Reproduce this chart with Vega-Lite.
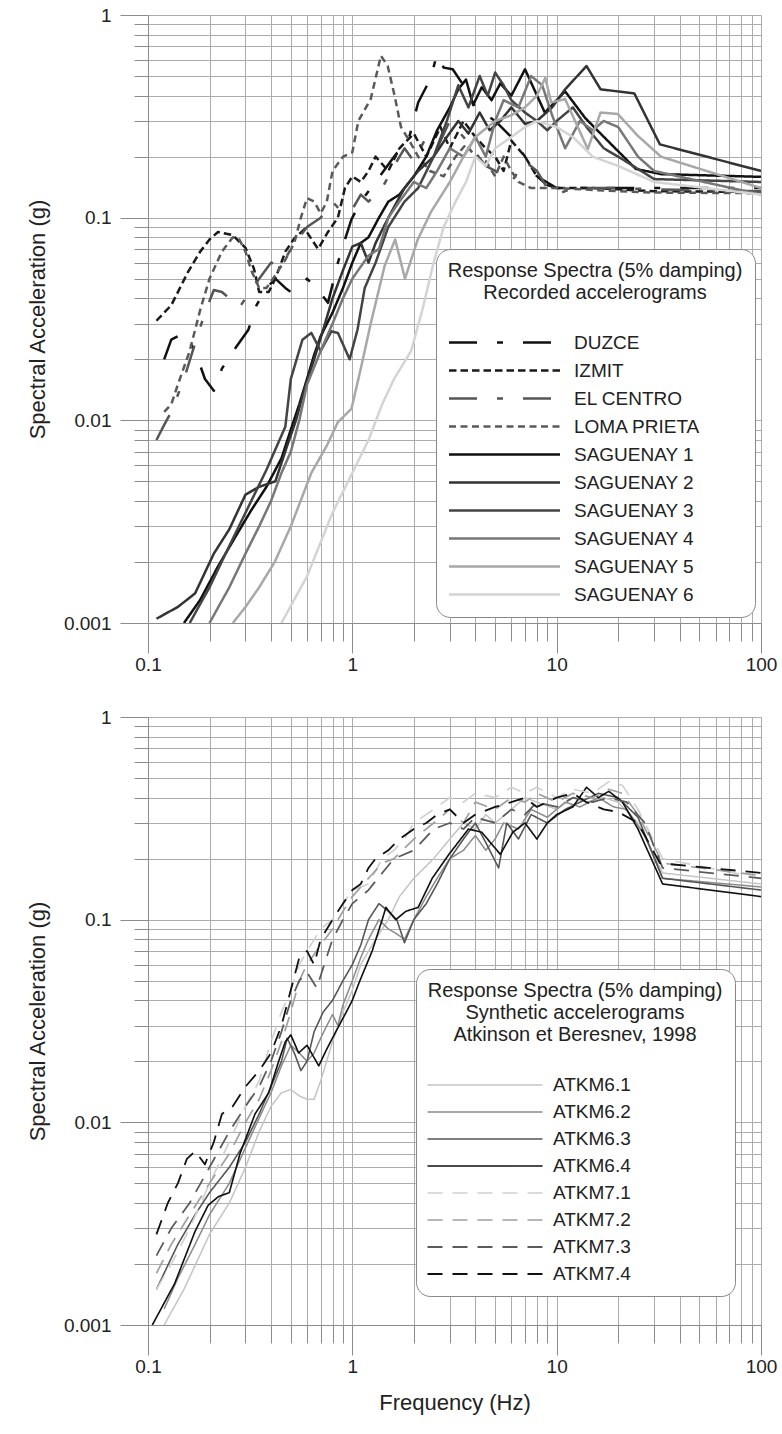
{
  "$schema": "https://vega.github.io/schema/vega-lite/v6.json",
  "padding": {"left": 26, "top": 6, "right": 10, "bottom": 5},
  "bounds": "flush",
  "spacing": 94,
  "config": {
    "font": "Liberation Sans",
    "view": {"stroke": null},
    "axis": {
      "grid": true, "gridColor": "#acacac", "gridWidth": 1,
      "domainColor": "#8c8c8c", "tickColor": "#8c8c8c", "tickWidth": 1,
      "labelFontSize": 19, "labelColor": "#222222", "labelFont": "Liberation Sans",
      "titleFontSize": 22, "titleFontWeight": "normal", "titleColor": "#222222",
      "labelOverlap": false, "labelBound": false, "labelFlush": false
    },
    "legend": {
      "titleFontSize": 20, "titleFontWeight": "normal", "titleColor": "#222222", "titleLimit": 500, "labelLimit": 400,
      "labelFontSize": 19, "labelColor": "#222222", "titleLineHeight": 22
    }
  },
  "datasets": {
    "top": [
      {"s":"DUZCE","f":0.12,"v":0.02},{"s":"DUZCE","f":0.13,"v":0.025},{"s":"DUZCE","f":0.15,"v":0.027},{"s":"DUZCE","f":0.17,"v":0.022},{"s":"DUZCE","f":0.19,"v":0.016},{"s":"DUZCE","f":0.21,"v":0.014},{"s":"DUZCE","f":0.23,"v":0.018},{"s":"DUZCE","f":0.27,"v":0.023},{"s":"DUZCE","f":0.31,"v":0.028},{"s":"DUZCE","f":0.34,"v":0.037},{"s":"DUZCE","f":0.38,"v":0.045},{"s":"DUZCE","f":0.42,"v":0.05},{"s":"DUZCE","f":0.47,"v":0.045},{"s":"DUZCE","f":0.5,"v":0.043},{"s":"DUZCE","f":0.55,"v":0.045},{"s":"DUZCE","f":0.6,"v":0.05},{"s":"DUZCE","f":0.68,"v":0.044},{"s":"DUZCE","f":0.76,"v":0.038},{"s":"DUZCE","f":0.85,"v":0.06},{"s":"DUZCE","f":0.92,"v":0.078},{"s":"DUZCE","f":0.99,"v":0.098},{"s":"DUZCE","f":1.1,"v":0.12},{"s":"DUZCE","f":1.3,"v":0.15},{"s":"DUZCE","f":1.6,"v":0.2},{"s":"DUZCE","f":1.9,"v":0.25},{"s":"DUZCE","f":2.1,"v":0.37},{"s":"DUZCE","f":2.4,"v":0.48},{"s":"DUZCE","f":2.6,"v":0.64},{"s":"DUZCE","f":2.8,"v":0.55},{"s":"DUZCE","f":3.1,"v":0.54},{"s":"DUZCE","f":3.5,"v":0.45},{"s":"DUZCE","f":4,"v":0.35},{"s":"DUZCE","f":5,"v":0.3},{"s":"DUZCE","f":6,"v":0.25},{"s":"DUZCE","f":7,"v":0.2},{"s":"DUZCE","f":8,"v":0.16},{"s":"DUZCE","f":10,"v":0.14},{"s":"DUZCE","f":15,"v":0.14},{"s":"DUZCE","f":20,"v":0.14},{"s":"DUZCE","f":30,"v":0.14},{"s":"DUZCE","f":100,"v":0.14},
      {"s":"IZMIT","f":0.11,"v":0.031},{"s":"IZMIT","f":0.13,"v":0.037},{"s":"IZMIT","f":0.157,"v":0.054},{"s":"IZMIT","f":0.18,"v":0.068},{"s":"IZMIT","f":0.2,"v":0.078},{"s":"IZMIT","f":0.22,"v":0.085},{"s":"IZMIT","f":0.26,"v":0.082},{"s":"IZMIT","f":0.3,"v":0.071},{"s":"IZMIT","f":0.33,"v":0.056},{"s":"IZMIT","f":0.35,"v":0.043},{"s":"IZMIT","f":0.39,"v":0.043},{"s":"IZMIT","f":0.42,"v":0.05},{"s":"IZMIT","f":0.47,"v":0.068},{"s":"IZMIT","f":0.52,"v":0.079},{"s":"IZMIT","f":0.585,"v":0.088},{"s":"IZMIT","f":0.68,"v":0.07},{"s":"IZMIT","f":0.76,"v":0.085},{"s":"IZMIT","f":0.85,"v":0.1},{"s":"IZMIT","f":0.92,"v":0.14},{"s":"IZMIT","f":1.0,"v":0.16},{"s":"IZMIT","f":1.1,"v":0.15},{"s":"IZMIT","f":1.2,"v":0.17},{"s":"IZMIT","f":1.3,"v":0.2},{"s":"IZMIT","f":1.5,"v":0.17},{"s":"IZMIT","f":1.7,"v":0.22},{"s":"IZMIT","f":2.0,"v":0.26},{"s":"IZMIT","f":2.3,"v":0.2},{"s":"IZMIT","f":2.7,"v":0.28},{"s":"IZMIT","f":3.0,"v":0.22},{"s":"IZMIT","f":3.5,"v":0.3},{"s":"IZMIT","f":4.0,"v":0.25},{"s":"IZMIT","f":4.5,"v":0.22},{"s":"IZMIT","f":5.0,"v":0.2},{"s":"IZMIT","f":5.5,"v":0.17},{"s":"IZMIT","f":6.0,"v":0.24},{"s":"IZMIT","f":7.0,"v":0.2},{"s":"IZMIT","f":8.0,"v":0.16},{"s":"IZMIT","f":9.0,"v":0.145},{"s":"IZMIT","f":10,"v":0.14},{"s":"IZMIT","f":15,"v":0.14},{"s":"IZMIT","f":20,"v":0.138},{"s":"IZMIT","f":30,"v":0.135},{"s":"IZMIT","f":100,"v":0.134},
      {"s":"EL CENTRO","f":0.11,"v":0.008},{"s":"EL CENTRO","f":0.12,"v":0.0095},{"s":"EL CENTRO","f":0.13,"v":0.011},{"s":"EL CENTRO","f":0.15,"v":0.016},{"s":"EL CENTRO","f":0.17,"v":0.024},{"s":"EL CENTRO","f":0.19,"v":0.034},{"s":"EL CENTRO","f":0.21,"v":0.044},{"s":"EL CENTRO","f":0.23,"v":0.043},{"s":"EL CENTRO","f":0.25,"v":0.04},{"s":"EL CENTRO","f":0.28,"v":0.036},{"s":"EL CENTRO","f":0.31,"v":0.042},{"s":"EL CENTRO","f":0.35,"v":0.05},{"s":"EL CENTRO","f":0.4,"v":0.06},{"s":"EL CENTRO","f":0.45,"v":0.058},{"s":"EL CENTRO","f":0.5,"v":0.07},{"s":"EL CENTRO","f":0.55,"v":0.08},{"s":"EL CENTRO","f":0.6,"v":0.09},{"s":"EL CENTRO","f":0.7,"v":0.1},{"s":"EL CENTRO","f":0.8,"v":0.12},{"s":"EL CENTRO","f":0.9,"v":0.105},{"s":"EL CENTRO","f":1.0,"v":0.11},{"s":"EL CENTRO","f":1.1,"v":0.13},{"s":"EL CENTRO","f":1.2,"v":0.12},{"s":"EL CENTRO","f":1.4,"v":0.14},{"s":"EL CENTRO","f":1.6,"v":0.18},{"s":"EL CENTRO","f":1.8,"v":0.22},{"s":"EL CENTRO","f":2.0,"v":0.19},{"s":"EL CENTRO","f":2.3,"v":0.25},{"s":"EL CENTRO","f":2.6,"v":0.22},{"s":"EL CENTRO","f":3.0,"v":0.3},{"s":"EL CENTRO","f":3.5,"v":0.25},{"s":"EL CENTRO","f":4.0,"v":0.21},{"s":"EL CENTRO","f":4.5,"v":0.18},{"s":"EL CENTRO","f":5.0,"v":0.17},{"s":"EL CENTRO","f":6.0,"v":0.15},{"s":"EL CENTRO","f":7.0,"v":0.19},{"s":"EL CENTRO","f":8.0,"v":0.17},{"s":"EL CENTRO","f":9.0,"v":0.14},{"s":"EL CENTRO","f":10,"v":0.13},{"s":"EL CENTRO","f":12,"v":0.14},{"s":"EL CENTRO","f":20,"v":0.14},{"s":"EL CENTRO","f":30,"v":0.138},{"s":"EL CENTRO","f":100,"v":0.135},
      {"s":"LOMA PRIETA","f":0.12,"v":0.011},{"s":"LOMA PRIETA","f":0.13,"v":0.012},{"s":"LOMA PRIETA","f":0.14,"v":0.015},{"s":"LOMA PRIETA","f":0.16,"v":0.022},{"s":"LOMA PRIETA","f":0.18,"v":0.035},{"s":"LOMA PRIETA","f":0.2,"v":0.05},{"s":"LOMA PRIETA","f":0.23,"v":0.068},{"s":"LOMA PRIETA","f":0.26,"v":0.08},{"s":"LOMA PRIETA","f":0.28,"v":0.078},{"s":"LOMA PRIETA","f":0.3,"v":0.068},{"s":"LOMA PRIETA","f":0.32,"v":0.055},{"s":"LOMA PRIETA","f":0.35,"v":0.045},{"s":"LOMA PRIETA","f":0.38,"v":0.045},{"s":"LOMA PRIETA","f":0.42,"v":0.052},{"s":"LOMA PRIETA","f":0.47,"v":0.062},{"s":"LOMA PRIETA","f":0.52,"v":0.075},{"s":"LOMA PRIETA","f":0.56,"v":0.1},{"s":"LOMA PRIETA","f":0.6,"v":0.125},{"s":"LOMA PRIETA","f":0.65,"v":0.12},{"s":"LOMA PRIETA","f":0.7,"v":0.105},{"s":"LOMA PRIETA","f":0.75,"v":0.12},{"s":"LOMA PRIETA","f":0.8,"v":0.17},{"s":"LOMA PRIETA","f":0.9,"v":0.2},{"s":"LOMA PRIETA","f":1.0,"v":0.21},{"s":"LOMA PRIETA","f":1.07,"v":0.3},{"s":"LOMA PRIETA","f":1.23,"v":0.385},{"s":"LOMA PRIETA","f":1.38,"v":0.63},{"s":"LOMA PRIETA","f":1.49,"v":0.56},{"s":"LOMA PRIETA","f":1.61,"v":0.4},{"s":"LOMA PRIETA","f":1.73,"v":0.28},{"s":"LOMA PRIETA","f":1.9,"v":0.24},{"s":"LOMA PRIETA","f":2.1,"v":0.2},{"s":"LOMA PRIETA","f":2.4,"v":0.17},{"s":"LOMA PRIETA","f":2.8,"v":0.16},{"s":"LOMA PRIETA","f":3.2,"v":0.2},{"s":"LOMA PRIETA","f":3.6,"v":0.23},{"s":"LOMA PRIETA","f":4,"v":0.2},{"s":"LOMA PRIETA","f":4.5,"v":0.19},{"s":"LOMA PRIETA","f":5,"v":0.16},{"s":"LOMA PRIETA","f":5.5,"v":0.2},{"s":"LOMA PRIETA","f":6,"v":0.17},{"s":"LOMA PRIETA","f":6.5,"v":0.15},{"s":"LOMA PRIETA","f":7.5,"v":0.14},{"s":"LOMA PRIETA","f":10,"v":0.14},{"s":"LOMA PRIETA","f":20,"v":0.135},{"s":"LOMA PRIETA","f":30,"v":0.133},{"s":"LOMA PRIETA","f":100,"v":0.132},
      {"s":"SAGUENAY 1","f":0.15,"v":0.001},{"s":"SAGUENAY 1","f":0.18,"v":0.0013},{"s":"SAGUENAY 1","f":0.22,"v":0.0019},{"s":"SAGUENAY 1","f":0.27,"v":0.0027},{"s":"SAGUENAY 1","f":0.32,"v":0.0036},{"s":"SAGUENAY 1","f":0.38,"v":0.0047},{"s":"SAGUENAY 1","f":0.45,"v":0.0065},{"s":"SAGUENAY 1","f":0.5,"v":0.009},{"s":"SAGUENAY 1","f":0.55,"v":0.012},{"s":"SAGUENAY 1","f":0.6,"v":0.016},{"s":"SAGUENAY 1","f":0.65,"v":0.021},{"s":"SAGUENAY 1","f":0.7,"v":0.026},{"s":"SAGUENAY 1","f":0.8,"v":0.034},{"s":"SAGUENAY 1","f":0.9,"v":0.045},{"s":"SAGUENAY 1","f":1.0,"v":0.06},{"s":"SAGUENAY 1","f":1.1,"v":0.075},{"s":"SAGUENAY 1","f":1.2,"v":0.08},{"s":"SAGUENAY 1","f":1.35,"v":0.1},{"s":"SAGUENAY 1","f":1.5,"v":0.12},{"s":"SAGUENAY 1","f":1.7,"v":0.13},{"s":"SAGUENAY 1","f":2.0,"v":0.16},{"s":"SAGUENAY 1","f":2.3,"v":0.2},{"s":"SAGUENAY 1","f":2.6,"v":0.27},{"s":"SAGUENAY 1","f":3.0,"v":0.35},{"s":"SAGUENAY 1","f":3.3,"v":0.43},{"s":"SAGUENAY 1","f":3.6,"v":0.48},{"s":"SAGUENAY 1","f":3.9,"v":0.36},{"s":"SAGUENAY 1","f":4.3,"v":0.44},{"s":"SAGUENAY 1","f":4.8,"v":0.38},{"s":"SAGUENAY 1","f":5.3,"v":0.46},{"s":"SAGUENAY 1","f":6.0,"v":0.4},{"s":"SAGUENAY 1","f":7.0,"v":0.54},{"s":"SAGUENAY 1","f":8.75,"v":0.33},{"s":"SAGUENAY 1","f":11,"v":0.42},{"s":"SAGUENAY 1","f":13.8,"v":0.31},{"s":"SAGUENAY 1","f":18.5,"v":0.23},{"s":"SAGUENAY 1","f":24.4,"v":0.174},{"s":"SAGUENAY 1","f":32.4,"v":0.164},{"s":"SAGUENAY 1","f":100,"v":0.159},
      {"s":"SAGUENAY 2","f":0.11,"v":0.00105},{"s":"SAGUENAY 2","f":0.14,"v":0.0012},{"s":"SAGUENAY 2","f":0.17,"v":0.0014},{"s":"SAGUENAY 2","f":0.21,"v":0.0022},{"s":"SAGUENAY 2","f":0.25,"v":0.0029},{"s":"SAGUENAY 2","f":0.3,"v":0.0043},{"s":"SAGUENAY 2","f":0.35,"v":0.0047},{"s":"SAGUENAY 2","f":0.42,"v":0.005},{"s":"SAGUENAY 2","f":0.48,"v":0.0075},{"s":"SAGUENAY 2","f":0.53,"v":0.01},{"s":"SAGUENAY 2","f":0.58,"v":0.014},{"s":"SAGUENAY 2","f":0.65,"v":0.02},{"s":"SAGUENAY 2","f":0.72,"v":0.028},{"s":"SAGUENAY 2","f":0.8,"v":0.04},{"s":"SAGUENAY 2","f":0.9,"v":0.055},{"s":"SAGUENAY 2","f":1.0,"v":0.072},{"s":"SAGUENAY 2","f":1.1,"v":0.075},{"s":"SAGUENAY 2","f":1.2,"v":0.06},{"s":"SAGUENAY 2","f":1.3,"v":0.075},{"s":"SAGUENAY 2","f":1.5,"v":0.1},{"s":"SAGUENAY 2","f":1.8,"v":0.14},{"s":"SAGUENAY 2","f":2.1,"v":0.17},{"s":"SAGUENAY 2","f":2.5,"v":0.2},{"s":"SAGUENAY 2","f":2.9,"v":0.25},{"s":"SAGUENAY 2","f":3.3,"v":0.3},{"s":"SAGUENAY 2","f":3.7,"v":0.26},{"s":"SAGUENAY 2","f":4.2,"v":0.33},{"s":"SAGUENAY 2","f":4.7,"v":0.27},{"s":"SAGUENAY 2","f":5.3,"v":0.3},{"s":"SAGUENAY 2","f":6,"v":0.35},{"s":"SAGUENAY 2","f":7,"v":0.29},{"s":"SAGUENAY 2","f":8,"v":0.3},{"s":"SAGUENAY 2","f":9.5,"v":0.35},{"s":"SAGUENAY 2","f":11,"v":0.43},{"s":"SAGUENAY 2","f":14,"v":0.56},{"s":"SAGUENAY 2","f":16.4,"v":0.43},{"s":"SAGUENAY 2","f":24,"v":0.41},{"s":"SAGUENAY 2","f":32,"v":0.23},{"s":"SAGUENAY 2","f":100,"v":0.17},
      {"s":"SAGUENAY 3","f":0.16,"v":0.001},{"s":"SAGUENAY 3","f":0.2,"v":0.0015},{"s":"SAGUENAY 3","f":0.25,"v":0.0024},{"s":"SAGUENAY 3","f":0.3,"v":0.0035},{"s":"SAGUENAY 3","f":0.38,"v":0.0057},{"s":"SAGUENAY 3","f":0.47,"v":0.0093},{"s":"SAGUENAY 3","f":0.5,"v":0.016},{"s":"SAGUENAY 3","f":0.57,"v":0.025},{"s":"SAGUENAY 3","f":0.63,"v":0.027},{"s":"SAGUENAY 3","f":0.7,"v":0.022},{"s":"SAGUENAY 3","f":0.79,"v":0.0275},{"s":"SAGUENAY 3","f":0.85,"v":0.027},{"s":"SAGUENAY 3","f":0.97,"v":0.02},{"s":"SAGUENAY 3","f":1.06,"v":0.028},{"s":"SAGUENAY 3","f":1.15,"v":0.045},{"s":"SAGUENAY 3","f":1.3,"v":0.06},{"s":"SAGUENAY 3","f":1.5,"v":0.09},{"s":"SAGUENAY 3","f":1.8,"v":0.12},{"s":"SAGUENAY 3","f":2.1,"v":0.14},{"s":"SAGUENAY 3","f":2.5,"v":0.2},{"s":"SAGUENAY 3","f":2.9,"v":0.3},{"s":"SAGUENAY 3","f":3.3,"v":0.45},{"s":"SAGUENAY 3","f":3.7,"v":0.35},{"s":"SAGUENAY 3","f":4.2,"v":0.5},{"s":"SAGUENAY 3","f":4.6,"v":0.4},{"s":"SAGUENAY 3","f":5.0,"v":0.52},{"s":"SAGUENAY 3","f":5.5,"v":0.45},{"s":"SAGUENAY 3","f":6.0,"v":0.38},{"s":"SAGUENAY 3","f":7,"v":0.33},{"s":"SAGUENAY 3","f":8,"v":0.3},{"s":"SAGUENAY 3","f":9,"v":0.27},{"s":"SAGUENAY 3","f":10,"v":0.3},{"s":"SAGUENAY 3","f":12,"v":0.35},{"s":"SAGUENAY 3","f":14,"v":0.28},{"s":"SAGUENAY 3","f":17,"v":0.22},{"s":"SAGUENAY 3","f":20,"v":0.2},{"s":"SAGUENAY 3","f":30,"v":0.155},{"s":"SAGUENAY 3","f":100,"v":0.15},
      {"s":"SAGUENAY 4","f":0.2,"v":0.001},{"s":"SAGUENAY 4","f":0.25,"v":0.0015},{"s":"SAGUENAY 4","f":0.3,"v":0.0022},{"s":"SAGUENAY 4","f":0.35,"v":0.003},{"s":"SAGUENAY 4","f":0.4,"v":0.004},{"s":"SAGUENAY 4","f":0.45,"v":0.0055},{"s":"SAGUENAY 4","f":0.5,"v":0.007},{"s":"SAGUENAY 4","f":0.55,"v":0.01},{"s":"SAGUENAY 4","f":0.6,"v":0.015},{"s":"SAGUENAY 4","f":0.7,"v":0.022},{"s":"SAGUENAY 4","f":0.8,"v":0.03},{"s":"SAGUENAY 4","f":0.9,"v":0.04},{"s":"SAGUENAY 4","f":1.0,"v":0.05},{"s":"SAGUENAY 4","f":1.2,"v":0.065},{"s":"SAGUENAY 4","f":1.35,"v":0.07},{"s":"SAGUENAY 4","f":1.5,"v":0.1},{"s":"SAGUENAY 4","f":1.7,"v":0.12},{"s":"SAGUENAY 4","f":2,"v":0.15},{"s":"SAGUENAY 4","f":2.3,"v":0.14},{"s":"SAGUENAY 4","f":2.6,"v":0.17},{"s":"SAGUENAY 4","f":3,"v":0.22},{"s":"SAGUENAY 4","f":3.5,"v":0.2},{"s":"SAGUENAY 4","f":4,"v":0.25},{"s":"SAGUENAY 4","f":4.5,"v":0.2},{"s":"SAGUENAY 4","f":5,"v":0.3},{"s":"SAGUENAY 4","f":5.5,"v":0.38},{"s":"SAGUENAY 4","f":6.5,"v":0.35},{"s":"SAGUENAY 4","f":7.5,"v":0.5},{"s":"SAGUENAY 4","f":8.5,"v":0.45},{"s":"SAGUENAY 4","f":9.5,"v":0.32},{"s":"SAGUENAY 4","f":11,"v":0.22},{"s":"SAGUENAY 4","f":13,"v":0.3},{"s":"SAGUENAY 4","f":15,"v":0.27},{"s":"SAGUENAY 4","f":17,"v":0.3},{"s":"SAGUENAY 4","f":20,"v":0.28},{"s":"SAGUENAY 4","f":25,"v":0.2},{"s":"SAGUENAY 4","f":30,"v":0.17},{"s":"SAGUENAY 4","f":100,"v":0.13},
      {"s":"SAGUENAY 5","f":0.26,"v":0.001},{"s":"SAGUENAY 5","f":0.3,"v":0.0012},{"s":"SAGUENAY 5","f":0.35,"v":0.0015},{"s":"SAGUENAY 5","f":0.417,"v":0.002},{"s":"SAGUENAY 5","f":0.5,"v":0.003},{"s":"SAGUENAY 5","f":0.63,"v":0.0055},{"s":"SAGUENAY 5","f":0.75,"v":0.0075},{"s":"SAGUENAY 5","f":0.85,"v":0.0098},{"s":"SAGUENAY 5","f":0.99,"v":0.0114},{"s":"SAGUENAY 5","f":1.1,"v":0.018},{"s":"SAGUENAY 5","f":1.23,"v":0.03},{"s":"SAGUENAY 5","f":1.44,"v":0.058},{"s":"SAGUENAY 5","f":1.62,"v":0.078},{"s":"SAGUENAY 5","f":1.81,"v":0.05},{"s":"SAGUENAY 5","f":2.09,"v":0.078},{"s":"SAGUENAY 5","f":2.43,"v":0.107},{"s":"SAGUENAY 5","f":3,"v":0.15},{"s":"SAGUENAY 5","f":3.5,"v":0.2},{"s":"SAGUENAY 5","f":4,"v":0.25},{"s":"SAGUENAY 5","f":5,"v":0.3},{"s":"SAGUENAY 5","f":6,"v":0.32},{"s":"SAGUENAY 5","f":7,"v":0.35},{"s":"SAGUENAY 5","f":8,"v":0.4},{"s":"SAGUENAY 5","f":8.8,"v":0.49},{"s":"SAGUENAY 5","f":9.4,"v":0.37},{"s":"SAGUENAY 5","f":11,"v":0.385},{"s":"SAGUENAY 5","f":14.2,"v":0.218},{"s":"SAGUENAY 5","f":16.4,"v":0.33},{"s":"SAGUENAY 5","f":19.9,"v":0.325},{"s":"SAGUENAY 5","f":25,"v":0.253},{"s":"SAGUENAY 5","f":32.4,"v":0.2},{"s":"SAGUENAY 5","f":100,"v":0.14},
      {"s":"SAGUENAY 6","f":0.45,"v":0.001},{"s":"SAGUENAY 6","f":0.6,"v":0.0017},{"s":"SAGUENAY 6","f":0.8,"v":0.0035},{"s":"SAGUENAY 6","f":1.0,"v":0.0055},{"s":"SAGUENAY 6","f":1.2,"v":0.008},{"s":"SAGUENAY 6","f":1.4,"v":0.012},{"s":"SAGUENAY 6","f":1.6,"v":0.016},{"s":"SAGUENAY 6","f":1.94,"v":0.022},{"s":"SAGUENAY 6","f":2.2,"v":0.035},{"s":"SAGUENAY 6","f":2.5,"v":0.06},{"s":"SAGUENAY 6","f":2.8,"v":0.09},{"s":"SAGUENAY 6","f":3.2,"v":0.12},{"s":"SAGUENAY 6","f":3.6,"v":0.15},{"s":"SAGUENAY 6","f":4,"v":0.2},{"s":"SAGUENAY 6","f":4.5,"v":0.18},{"s":"SAGUENAY 6","f":5,"v":0.22},{"s":"SAGUENAY 6","f":6,"v":0.25},{"s":"SAGUENAY 6","f":7,"v":0.28},{"s":"SAGUENAY 6","f":8,"v":0.3},{"s":"SAGUENAY 6","f":10,"v":0.28},{"s":"SAGUENAY 6","f":12,"v":0.25},{"s":"SAGUENAY 6","f":15,"v":0.2},{"s":"SAGUENAY 6","f":20,"v":0.18},{"s":"SAGUENAY 6","f":30,"v":0.15},{"s":"SAGUENAY 6","f":100,"v":0.13}
    ],
    "bottom": [
      {"m":"ATKM6.1","f":0.12,"v":0.001},{"m":"ATKM6.1","f":0.15,"v":0.0015},{"m":"ATKM6.1","f":0.2,"v":0.0028},{"m":"ATKM6.1","f":0.25,"v":0.004},{"m":"ATKM6.1","f":0.3,"v":0.006},{"m":"ATKM6.1","f":0.35,"v":0.009},{"m":"ATKM6.1","f":0.4,"v":0.012},{"m":"ATKM6.1","f":0.45,"v":0.014},{"m":"ATKM6.1","f":0.5,"v":0.0145},{"m":"ATKM6.1","f":0.55,"v":0.0135},{"m":"ATKM6.1","f":0.6,"v":0.013},{"m":"ATKM6.1","f":0.65,"v":0.013},{"m":"ATKM6.1","f":0.7,"v":0.016},{"m":"ATKM6.1","f":0.8,"v":0.025},{"m":"ATKM6.1","f":0.9,"v":0.035},{"m":"ATKM6.1","f":1.0,"v":0.045},{"m":"ATKM6.1","f":1.1,"v":0.06},{"m":"ATKM6.1","f":1.2,"v":0.07},{"m":"ATKM6.1","f":1.3,"v":0.08},{"m":"ATKM6.1","f":1.5,"v":0.1},{"m":"ATKM6.1","f":1.7,"v":0.13},{"m":"ATKM6.1","f":2,"v":0.16},{"m":"ATKM6.1","f":2.5,"v":0.2},{"m":"ATKM6.1","f":3,"v":0.25},{"m":"ATKM6.1","f":3.5,"v":0.3},{"m":"ATKM6.1","f":4,"v":0.28},{"m":"ATKM6.1","f":4.5,"v":0.33},{"m":"ATKM6.1","f":5,"v":0.3},{"m":"ATKM6.1","f":6,"v":0.35},{"m":"ATKM6.1","f":7,"v":0.4},{"m":"ATKM6.1","f":8,"v":0.38},{"m":"ATKM6.1","f":10,"v":0.35},{"m":"ATKM6.1","f":12,"v":0.4},{"m":"ATKM6.1","f":14,"v":0.38},{"m":"ATKM6.1","f":17,"v":0.4},{"m":"ATKM6.1","f":20,"v":0.38},{"m":"ATKM6.1","f":25,"v":0.3},{"m":"ATKM6.1","f":33,"v":0.17},{"m":"ATKM6.1","f":100,"v":0.15},
      {"m":"ATKM6.2","f":0.12,"v":0.0012},{"m":"ATKM6.2","f":0.14,"v":0.0017},{"m":"ATKM6.2","f":0.17,"v":0.0025},{"m":"ATKM6.2","f":0.2,"v":0.0035},{"m":"ATKM6.2","f":0.25,"v":0.005},{"m":"ATKM6.2","f":0.3,"v":0.0075},{"m":"ATKM6.2","f":0.35,"v":0.0105},{"m":"ATKM6.2","f":0.4,"v":0.014},{"m":"ATKM6.2","f":0.45,"v":0.019},{"m":"ATKM6.2","f":0.5,"v":0.024},{"m":"ATKM6.2","f":0.55,"v":0.022},{"m":"ATKM6.2","f":0.6,"v":0.02},{"m":"ATKM6.2","f":0.65,"v":0.022},{"m":"ATKM6.2","f":0.7,"v":0.026},{"m":"ATKM6.2","f":0.75,"v":0.03},{"m":"ATKM6.2","f":0.8,"v":0.034},{"m":"ATKM6.2","f":0.85,"v":0.03},{"m":"ATKM6.2","f":0.9,"v":0.038},{"m":"ATKM6.2","f":1.0,"v":0.05},{"m":"ATKM6.2","f":1.1,"v":0.065},{"m":"ATKM6.2","f":1.2,"v":0.08},{"m":"ATKM6.2","f":1.35,"v":0.1},{"m":"ATKM6.2","f":1.5,"v":0.09},{"m":"ATKM6.2","f":1.65,"v":0.085},{"m":"ATKM6.2","f":1.8,"v":0.08},{"m":"ATKM6.2","f":2.0,"v":0.1},{"m":"ATKM6.2","f":2.3,"v":0.13},{"m":"ATKM6.2","f":2.6,"v":0.16},{"m":"ATKM6.2","f":3.0,"v":0.2},{"m":"ATKM6.2","f":3.5,"v":0.22},{"m":"ATKM6.2","f":4.0,"v":0.26},{"m":"ATKM6.2","f":4.5,"v":0.22},{"m":"ATKM6.2","f":5.0,"v":0.25},{"m":"ATKM6.2","f":5.5,"v":0.3},{"m":"ATKM6.2","f":6.5,"v":0.28},{"m":"ATKM6.2","f":7.5,"v":0.35},{"m":"ATKM6.2","f":9,"v":0.32},{"m":"ATKM6.2","f":11,"v":0.38},{"m":"ATKM6.2","f":13,"v":0.36},{"m":"ATKM6.2","f":16,"v":0.4},{"m":"ATKM6.2","f":19,"v":0.36},{"m":"ATKM6.2","f":22,"v":0.35},{"m":"ATKM6.2","f":27,"v":0.26},{"m":"ATKM6.2","f":33,"v":0.16},{"m":"ATKM6.2","f":100,"v":0.145},
      {"m":"ATKM6.3","f":0.11,"v":0.0015},{"m":"ATKM6.3","f":0.14,"v":0.0025},{"m":"ATKM6.3","f":0.17,"v":0.0035},{"m":"ATKM6.3","f":0.2,"v":0.0045},{"m":"ATKM6.3","f":0.25,"v":0.006},{"m":"ATKM6.3","f":0.3,"v":0.008},{"m":"ATKM6.3","f":0.35,"v":0.011},{"m":"ATKM6.3","f":0.4,"v":0.015},{"m":"ATKM6.3","f":0.45,"v":0.02},{"m":"ATKM6.3","f":0.48,"v":0.026},{"m":"ATKM6.3","f":0.52,"v":0.022},{"m":"ATKM6.3","f":0.56,"v":0.018},{"m":"ATKM6.3","f":0.6,"v":0.02},{"m":"ATKM6.3","f":0.65,"v":0.028},{"m":"ATKM6.3","f":0.72,"v":0.035},{"m":"ATKM6.3","f":0.8,"v":0.04},{"m":"ATKM6.3","f":0.9,"v":0.05},{"m":"ATKM6.3","f":1.0,"v":0.06},{"m":"ATKM6.3","f":1.1,"v":0.075},{"m":"ATKM6.3","f":1.2,"v":0.1},{"m":"ATKM6.3","f":1.35,"v":0.12},{"m":"ATKM6.3","f":1.5,"v":0.11},{"m":"ATKM6.3","f":1.65,"v":0.1},{"m":"ATKM6.3","f":1.8,"v":0.077},{"m":"ATKM6.3","f":2.0,"v":0.1},{"m":"ATKM6.3","f":2.3,"v":0.12},{"m":"ATKM6.3","f":2.6,"v":0.15},{"m":"ATKM6.3","f":3,"v":0.2},{"m":"ATKM6.3","f":3.5,"v":0.25},{"m":"ATKM6.3","f":4,"v":0.3},{"m":"ATKM6.3","f":4.5,"v":0.24},{"m":"ATKM6.3","f":5.2,"v":0.18},{"m":"ATKM6.3","f":5.7,"v":0.3},{"m":"ATKM6.3","f":6.5,"v":0.25},{"m":"ATKM6.3","f":7.5,"v":0.33},{"m":"ATKM6.3","f":9,"v":0.3},{"m":"ATKM6.3","f":11,"v":0.35},{"m":"ATKM6.3","f":13,"v":0.38},{"m":"ATKM6.3","f":16,"v":0.42},{"m":"ATKM6.3","f":20,"v":0.4},{"m":"ATKM6.3","f":25,"v":0.32},{"m":"ATKM6.3","f":33,"v":0.16},{"m":"ATKM6.3","f":100,"v":0.14},
      {"m":"ATKM6.4","f":0.105,"v":0.001},{"m":"ATKM6.4","f":0.135,"v":0.0016},{"m":"ATKM6.4","f":0.17,"v":0.0029},{"m":"ATKM6.4","f":0.197,"v":0.0039},{"m":"ATKM6.4","f":0.221,"v":0.0043},{"m":"ATKM6.4","f":0.25,"v":0.0045},{"m":"ATKM6.4","f":0.282,"v":0.007},{"m":"ATKM6.4","f":0.334,"v":0.011},{"m":"ATKM6.4","f":0.39,"v":0.014},{"m":"ATKM6.4","f":0.436,"v":0.02},{"m":"ATKM6.4","f":0.47,"v":0.025},{"m":"ATKM6.4","f":0.5,"v":0.027},{"m":"ATKM6.4","f":0.546,"v":0.022},{"m":"ATKM6.4","f":0.6,"v":0.024},{"m":"ATKM6.4","f":0.685,"v":0.019},{"m":"ATKM6.4","f":0.75,"v":0.023},{"m":"ATKM6.4","f":0.83,"v":0.028},{"m":"ATKM6.4","f":0.92,"v":0.034},{"m":"ATKM6.4","f":1.0,"v":0.04},{"m":"ATKM6.4","f":1.08,"v":0.049},{"m":"ATKM6.4","f":1.25,"v":0.07},{"m":"ATKM6.4","f":1.4,"v":0.1},{"m":"ATKM6.4","f":1.46,"v":0.115},{"m":"ATKM6.4","f":1.63,"v":0.1},{"m":"ATKM6.4","f":1.83,"v":0.11},{"m":"ATKM6.4","f":2.1,"v":0.115},{"m":"ATKM6.4","f":2.46,"v":0.16},{"m":"ATKM6.4","f":2.97,"v":0.21},{"m":"ATKM6.4","f":3.7,"v":0.28},{"m":"ATKM6.4","f":4.3,"v":0.27},{"m":"ATKM6.4","f":5.3,"v":0.21},{"m":"ATKM6.4","f":6.1,"v":0.27},{"m":"ATKM6.4","f":7,"v":0.3},{"m":"ATKM6.4","f":8,"v":0.25},{"m":"ATKM6.4","f":9,"v":0.3},{"m":"ATKM6.4","f":10,"v":0.33},{"m":"ATKM6.4","f":12,"v":0.36},{"m":"ATKM6.4","f":14,"v":0.45},{"m":"ATKM6.4","f":16,"v":0.4},{"m":"ATKM6.4","f":18,"v":0.43},{"m":"ATKM6.4","f":21,"v":0.38},{"m":"ATKM6.4","f":25,"v":0.28},{"m":"ATKM6.4","f":33,"v":0.15},{"m":"ATKM6.4","f":100,"v":0.13},
      {"m":"ATKM7.1","f":0.11,"v":0.0015},{"m":"ATKM7.1","f":0.13,"v":0.002},{"m":"ATKM7.1","f":0.16,"v":0.003},{"m":"ATKM7.1","f":0.2,"v":0.005},{"m":"ATKM7.1","f":0.25,"v":0.008},{"m":"ATKM7.1","f":0.3,"v":0.012},{"m":"ATKM7.1","f":0.35,"v":0.016},{"m":"ATKM7.1","f":0.4,"v":0.025},{"m":"ATKM7.1","f":0.45,"v":0.035},{"m":"ATKM7.1","f":0.5,"v":0.045},{"m":"ATKM7.1","f":0.55,"v":0.06},{"m":"ATKM7.1","f":0.6,"v":0.07},{"m":"ATKM7.1","f":0.7,"v":0.09},{"m":"ATKM7.1","f":0.8,"v":0.1},{"m":"ATKM7.1","f":0.9,"v":0.12},{"m":"ATKM7.1","f":1.0,"v":0.14},{"m":"ATKM7.1","f":1.2,"v":0.15},{"m":"ATKM7.1","f":1.4,"v":0.2},{"m":"ATKM7.1","f":1.6,"v":0.22},{"m":"ATKM7.1","f":1.8,"v":0.25},{"m":"ATKM7.1","f":2,"v":0.3},{"m":"ATKM7.1","f":2.5,"v":0.35},{"m":"ATKM7.1","f":3,"v":0.4},{"m":"ATKM7.1","f":3.5,"v":0.38},{"m":"ATKM7.1","f":4,"v":0.42},{"m":"ATKM7.1","f":5,"v":0.4},{"m":"ATKM7.1","f":6,"v":0.45},{"m":"ATKM7.1","f":7,"v":0.42},{"m":"ATKM7.1","f":8,"v":0.45},{"m":"ATKM7.1","f":10,"v":0.4},{"m":"ATKM7.1","f":12,"v":0.44},{"m":"ATKM7.1","f":15,"v":0.42},{"m":"ATKM7.1","f":18,"v":0.48},{"m":"ATKM7.1","f":21,"v":0.46},{"m":"ATKM7.1","f":25,"v":0.35},{"m":"ATKM7.1","f":33,"v":0.2},{"m":"ATKM7.1","f":100,"v":0.16},
      {"m":"ATKM7.2","f":0.11,"v":0.0018},{"m":"ATKM7.2","f":0.13,"v":0.0025},{"m":"ATKM7.2","f":0.16,"v":0.0035},{"m":"ATKM7.2","f":0.2,"v":0.005},{"m":"ATKM7.2","f":0.25,"v":0.007},{"m":"ATKM7.2","f":0.3,"v":0.01},{"m":"ATKM7.2","f":0.35,"v":0.013},{"m":"ATKM7.2","f":0.4,"v":0.018},{"m":"ATKM7.2","f":0.45,"v":0.025},{"m":"ATKM7.2","f":0.5,"v":0.035},{"m":"ATKM7.2","f":0.55,"v":0.05},{"m":"ATKM7.2","f":0.6,"v":0.06},{"m":"ATKM7.2","f":0.7,"v":0.075},{"m":"ATKM7.2","f":0.8,"v":0.09},{"m":"ATKM7.2","f":0.9,"v":0.11},{"m":"ATKM7.2","f":1.0,"v":0.13},{"m":"ATKM7.2","f":1.2,"v":0.16},{"m":"ATKM7.2","f":1.4,"v":0.19},{"m":"ATKM7.2","f":1.6,"v":0.2},{"m":"ATKM7.2","f":2,"v":0.25},{"m":"ATKM7.2","f":2.5,"v":0.3},{"m":"ATKM7.2","f":3,"v":0.35},{"m":"ATKM7.2","f":3.5,"v":0.3},{"m":"ATKM7.2","f":4,"v":0.38},{"m":"ATKM7.2","f":5,"v":0.35},{"m":"ATKM7.2","f":6,"v":0.4},{"m":"ATKM7.2","f":7,"v":0.38},{"m":"ATKM7.2","f":8,"v":0.42},{"m":"ATKM7.2","f":10,"v":0.38},{"m":"ATKM7.2","f":12,"v":0.42},{"m":"ATKM7.2","f":15,"v":0.4},{"m":"ATKM7.2","f":18,"v":0.44},{"m":"ATKM7.2","f":21,"v":0.42},{"m":"ATKM7.2","f":25,"v":0.33},{"m":"ATKM7.2","f":33,"v":0.19},{"m":"ATKM7.2","f":100,"v":0.165},
      {"m":"ATKM7.3","f":0.11,"v":0.0022},{"m":"ATKM7.3","f":0.13,"v":0.003},{"m":"ATKM7.3","f":0.16,"v":0.004},{"m":"ATKM7.3","f":0.2,"v":0.006},{"m":"ATKM7.3","f":0.25,"v":0.009},{"m":"ATKM7.3","f":0.3,"v":0.012},{"m":"ATKM7.3","f":0.35,"v":0.015},{"m":"ATKM7.3","f":0.4,"v":0.02},{"m":"ATKM7.3","f":0.45,"v":0.028},{"m":"ATKM7.3","f":0.5,"v":0.04},{"m":"ATKM7.3","f":0.55,"v":0.05},{"m":"ATKM7.3","f":0.6,"v":0.055},{"m":"ATKM7.3","f":0.67,"v":0.046},{"m":"ATKM7.3","f":0.74,"v":0.063},{"m":"ATKM7.3","f":0.8,"v":0.08},{"m":"ATKM7.3","f":0.9,"v":0.1},{"m":"ATKM7.3","f":1.0,"v":0.12},{"m":"ATKM7.3","f":1.2,"v":0.14},{"m":"ATKM7.3","f":1.4,"v":0.17},{"m":"ATKM7.3","f":1.6,"v":0.2},{"m":"ATKM7.3","f":2,"v":0.22},{"m":"ATKM7.3","f":2.5,"v":0.28},{"m":"ATKM7.3","f":3,"v":0.3},{"m":"ATKM7.3","f":3.5,"v":0.28},{"m":"ATKM7.3","f":4,"v":0.32},{"m":"ATKM7.3","f":5,"v":0.3},{"m":"ATKM7.3","f":6,"v":0.35},{"m":"ATKM7.3","f":7,"v":0.33},{"m":"ATKM7.3","f":8,"v":0.38},{"m":"ATKM7.3","f":10,"v":0.36},{"m":"ATKM7.3","f":12,"v":0.4},{"m":"ATKM7.3","f":15,"v":0.38},{"m":"ATKM7.3","f":18,"v":0.4},{"m":"ATKM7.3","f":22,"v":0.38},{"m":"ATKM7.3","f":27,"v":0.3},{"m":"ATKM7.3","f":33,"v":0.18},{"m":"ATKM7.3","f":100,"v":0.16},
      {"m":"ATKM7.4","f":0.11,"v":0.0028},{"m":"ATKM7.4","f":0.125,"v":0.004},{"m":"ATKM7.4","f":0.14,"v":0.005},{"m":"ATKM7.4","f":0.155,"v":0.0066},{"m":"ATKM7.4","f":0.17,"v":0.0072},{"m":"ATKM7.4","f":0.19,"v":0.0062},{"m":"ATKM7.4","f":0.21,"v":0.008},{"m":"ATKM7.4","f":0.23,"v":0.011},{"m":"ATKM7.4","f":0.26,"v":0.012},{"m":"ATKM7.4","f":0.3,"v":0.015},{"m":"ATKM7.4","f":0.35,"v":0.018},{"m":"ATKM7.4","f":0.4,"v":0.022},{"m":"ATKM7.4","f":0.45,"v":0.03},{"m":"ATKM7.4","f":0.5,"v":0.045},{"m":"ATKM7.4","f":0.55,"v":0.065},{"m":"ATKM7.4","f":0.6,"v":0.07},{"m":"ATKM7.4","f":0.65,"v":0.06},{"m":"ATKM7.4","f":0.7,"v":0.08},{"m":"ATKM7.4","f":0.8,"v":0.1},{"m":"ATKM7.4","f":0.9,"v":0.12},{"m":"ATKM7.4","f":1.0,"v":0.14},{"m":"ATKM7.4","f":1.1,"v":0.15},{"m":"ATKM7.4","f":1.2,"v":0.18},{"m":"ATKM7.4","f":1.3,"v":0.2},{"m":"ATKM7.4","f":1.5,"v":0.22},{"m":"ATKM7.4","f":1.7,"v":0.25},{"m":"ATKM7.4","f":2.0,"v":0.28},{"m":"ATKM7.4","f":2.3,"v":0.3},{"m":"ATKM7.4","f":2.6,"v":0.33},{"m":"ATKM7.4","f":3,"v":0.35},{"m":"ATKM7.4","f":3.5,"v":0.3},{"m":"ATKM7.4","f":4,"v":0.33},{"m":"ATKM7.4","f":5,"v":0.36},{"m":"ATKM7.4","f":6,"v":0.38},{"m":"ATKM7.4","f":7,"v":0.4},{"m":"ATKM7.4","f":8,"v":0.36},{"m":"ATKM7.4","f":10,"v":0.4},{"m":"ATKM7.4","f":12,"v":0.42},{"m":"ATKM7.4","f":14,"v":0.38},{"m":"ATKM7.4","f":17,"v":0.35},{"m":"ATKM7.4","f":20,"v":0.34},{"m":"ATKM7.4","f":25,"v":0.3},{"m":"ATKM7.4","f":32,"v":0.19},{"m":"ATKM7.4","f":100,"v":0.17}
    ]
  },
  "vconcat": [
    {
      "width": 613, "height": 608,
      "data": {"name": "top"},
      "mark": {"type": "line", "clip": true, "strokeJoin": "round"},
      "encoding": {
        "x": {"field": "f", "type": "quantitative",
          "scale": {"type": "log", "domain": [0.1, 100], "nice": false},
          "axis": {"title": null,
            "values": [0.1,0.2,0.3,0.4,0.5,0.6,0.7,0.8,0.9,1,2,3,4,5,6,7,8,9,10,20,30,40,50,60,70,80,90,100],
            "format": "~g",
            "labelExpr": "abs(log(datum.value)/LN10 - round(log(datum.value)/LN10)) < 0.001 ? datum.label : ''",
            "tickSize": {"condition": {"test": "abs(log(datum.value)/LN10 - round(log(datum.value)/LN10)) < 0.001", "value": 30}, "value": 18},
            "labelPadding": 2}},
        "y": {"field": "v", "type": "quantitative",
          "scale": {"type": "log", "domain": [0.001, 1], "nice": false},
          "axis": {"title": "Spectral Acceleration (g)",
            "values": [0.001,0.002,0.003,0.004,0.005,0.006,0.007,0.008,0.009,0.01,0.02,0.03,0.04,0.05,0.06,0.07,0.08,0.09,0.1,0.2,0.3,0.4,0.5,0.6,0.7,0.8,0.9,1],
            "format": "~g",
            "labelExpr": "abs(log(datum.value)/LN10 - round(log(datum.value)/LN10)) < 0.001 ? datum.label : ''",
            "tickSize": {"condition": {"test": "abs(log(datum.value)/LN10 - round(log(datum.value)/LN10)) < 0.001", "value": 28}, "value": 14},
            "labelPadding": 9, "titlePadding": 14}},
        "color": {"field": "s", "type": "nominal",
          "scale": {"domain": ["DUZCE","IZMIT","EL CENTRO","LOMA PRIETA","SAGUENAY 1","SAGUENAY 2","SAGUENAY 3","SAGUENAY 4","SAGUENAY 5","SAGUENAY 6"],
                    "range": ["#111111","#1a1a1a","#555555","#5a5a5a","#111111","#333333","#444444","#777777","#a8a8a8","#d4d4d4"]},
          "legend": {"title": ["Response Spectra (5% damping)", "Recorded accelerograms"], "orient": "none", "legendX": 288, "legendY": 234,
            "titleAnchor": "middle", "titleAlign": "center", "titlePadding": 28,
            "symbolType": "M-5.25,0H5.85", "symbolSize": 400, "labelOffset": 61, "rowPadding": 6,
            "strokeColor": "#888888", "fillColor": "#ffffff", "cornerRadius": 14, "padding": 12}},
        "strokeDash": {"field": "s", "type": "nominal",
          "scale": {"domain": ["DUZCE","IZMIT","EL CENTRO","LOMA PRIETA","SAGUENAY 1","SAGUENAY 2","SAGUENAY 3","SAGUENAY 4","SAGUENAY 5","SAGUENAY 6"],
                    "range": [[28,20,6,20],[7.5,4],[28,20,6,20],[7,4.5],[1,0],[1,0],[1,0],[1,0],[1,0],[1,0]]},
          "legend": {"title": ["Response Spectra (5% damping)", "Recorded accelerograms"], "orient": "none", "legendX": 288, "legendY": 234,
            "titleAnchor": "middle", "titleAlign": "center", "titlePadding": 28,
            "symbolType": "M-5.25,0H5.85", "symbolSize": 400, "labelOffset": 61, "rowPadding": 6,
            "strokeColor": "#888888", "fillColor": "#ffffff", "cornerRadius": 14, "padding": 12}},
        "strokeWidth": {"field": "s", "type": "nominal",
          "scale": {"domain": ["DUZCE","IZMIT","EL CENTRO","LOMA PRIETA","SAGUENAY 1","SAGUENAY 2","SAGUENAY 3","SAGUENAY 4","SAGUENAY 5","SAGUENAY 6"],
                    "range": [2.5,2.5,2,2,2.5,2.3,2.2,2,2,1.5]},
          "legend": {"title": ["Response Spectra (5% damping)", "Recorded accelerograms"], "orient": "none", "legendX": 288, "legendY": 234,
            "titleAnchor": "middle", "titleAlign": "center", "titlePadding": 28,
            "symbolType": "M-5.25,0H5.85", "symbolSize": 400, "labelOffset": 61, "rowPadding": 6,
            "strokeColor": "#888888", "fillColor": "#ffffff", "cornerRadius": 14, "padding": 12}}
      }
    },
    {
      "width": 613, "height": 608,
      "data": {"name": "bottom"},
      "mark": {"type": "line", "clip": true, "strokeJoin": "round"},
      "encoding": {
        "x": {"field": "f", "type": "quantitative",
          "scale": {"type": "log", "domain": [0.1, 100], "nice": false},
          "axis": {"title": "Frequency (Hz)",
            "values": [0.1,0.2,0.3,0.4,0.5,0.6,0.7,0.8,0.9,1,2,3,4,5,6,7,8,9,10,20,30,40,50,60,70,80,90,100],
            "format": "~g",
            "labelExpr": "abs(log(datum.value)/LN10 - round(log(datum.value)/LN10)) < 0.001 ? datum.label : ''",
            "tickSize": {"condition": {"test": "abs(log(datum.value)/LN10 - round(log(datum.value)/LN10)) < 0.001", "value": 30}, "value": 18},
            "labelPadding": 2, "titlePadding": 16}},
        "y": {"field": "v", "type": "quantitative",
          "scale": {"type": "log", "domain": [0.001, 1], "nice": false},
          "axis": {"title": "Spectral Acceleration (g)",
            "values": [0.001,0.002,0.003,0.004,0.005,0.006,0.007,0.008,0.009,0.01,0.02,0.03,0.04,0.05,0.06,0.07,0.08,0.09,0.1,0.2,0.3,0.4,0.5,0.6,0.7,0.8,0.9,1],
            "format": "~g",
            "labelExpr": "abs(log(datum.value)/LN10 - round(log(datum.value)/LN10)) < 0.001 ? datum.label : ''",
            "tickSize": {"condition": {"test": "abs(log(datum.value)/LN10 - round(log(datum.value)/LN10)) < 0.001", "value": 28}, "value": 14},
            "labelPadding": 9, "titlePadding": 14}},
        "color": {"field": "m", "type": "nominal",
          "scale": {"domain": ["ATKM6.1","ATKM6.2","ATKM6.3","ATKM6.4","ATKM7.1","ATKM7.2","ATKM7.3","ATKM7.4"],
                    "range": ["#c4c4c4","#8c8c8c","#555555","#111111","#d0d0d0","#a0a0a0","#5a5a5a","#111111"]},
          "legend": {"title": ["Response Spectra (5% damping)", "Synthetic accelerograms", "Atkinson et Beresnev, 1998"], "orient": "none", "legendX": 268, "legendY": 252,
            "titleAnchor": "middle", "titleAlign": "center", "titlePadding": 29,
            "symbolType": "M-10.25,0H1.25", "symbolSize": 400, "labelOffset": 12, "rowPadding": 6,
            "strokeColor": "#888888", "fillColor": "#ffffff", "cornerRadius": 14, "padding": 12}},
        "strokeDash": {"field": "m", "type": "nominal",
          "scale": {"domain": ["ATKM6.1","ATKM6.2","ATKM6.3","ATKM6.4","ATKM7.1","ATKM7.2","ATKM7.3","ATKM7.4"],
                    "range": [[1,0],[1,0],[1,0],[1,0],[15,10],[15,10],[15,10],[15,10]]},
          "legend": {"title": ["Response Spectra (5% damping)", "Synthetic accelerograms", "Atkinson et Beresnev, 1998"], "orient": "none", "legendX": 268, "legendY": 252,
            "titleAnchor": "middle", "titleAlign": "center", "titlePadding": 29,
            "symbolType": "M-10.25,0H1.25", "symbolSize": 400, "labelOffset": 12, "rowPadding": 6,
            "strokeColor": "#888888", "fillColor": "#ffffff", "cornerRadius": 14, "padding": 12}},
        "strokeWidth": {"field": "m", "type": "nominal",
          "scale": {"domain": ["ATKM6.1","ATKM6.2","ATKM6.3","ATKM6.4","ATKM7.1","ATKM7.2","ATKM7.3","ATKM7.4"],
                    "range": [1.5,1.8,2.2,2.5,2.2,2.2,2.2,2.5]},
          "legend": {"title": ["Response Spectra (5% damping)", "Synthetic accelerograms", "Atkinson et Beresnev, 1998"], "orient": "none", "legendX": 268, "legendY": 252,
            "titleAnchor": "middle", "titleAlign": "center", "titlePadding": 29,
            "symbolType": "M-10.25,0H1.25", "symbolSize": 400, "labelOffset": 12, "rowPadding": 6,
            "strokeColor": "#888888", "fillColor": "#ffffff", "cornerRadius": 14, "padding": 12}}
      }
    }
  ],
  "resolve": {"scale": {"color": "independent", "strokeDash": "independent", "strokeWidth": "independent"}, "legend": {"color": "independent", "strokeDash": "independent", "strokeWidth": "independent"}}
}
